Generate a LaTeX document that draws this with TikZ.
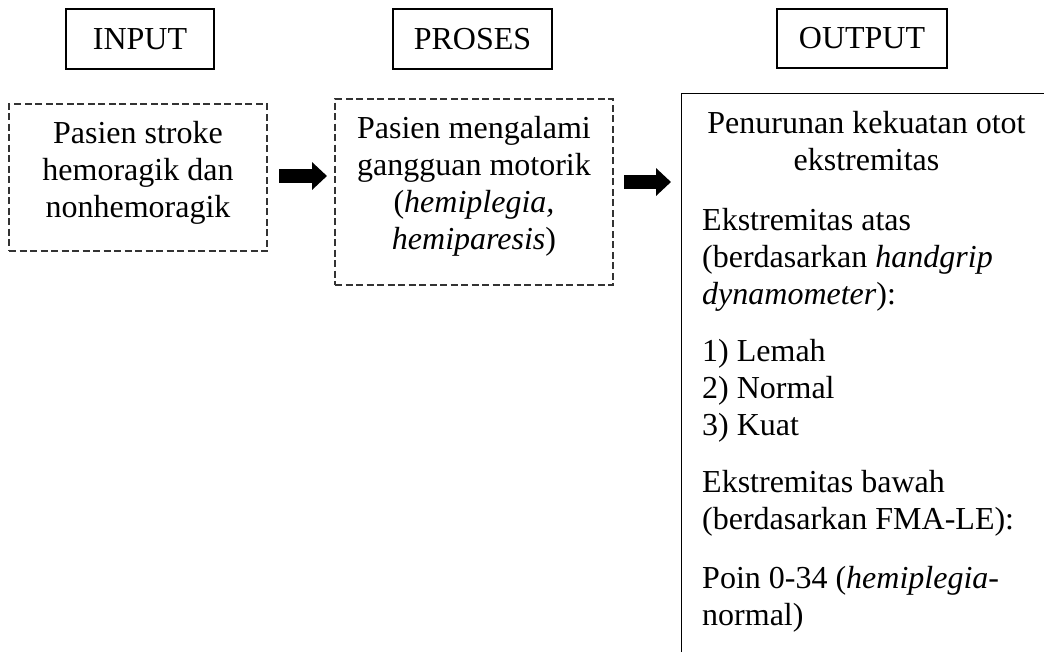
\documentclass[tikz,border=0pt]{standalone}
\usepackage{fontspec}
\setmainfont{Liberation Serif}
\usetikzlibrary{arrows.meta}
\newcommand\fstrut{\rule{0pt}{24pt}}
\begin{document}
\begin{tikzpicture}[x=1pt,y=-1pt,
  every node/.style={font=\fontsize{32pt}{37pt}\selectfont},
  hdr/.style={draw, line width=1.2pt, inner sep=0pt},
  dbox/.style={draw=black!80, dash pattern=on 7pt off 3.5pt, line width=1.1pt, inner sep=0pt},
  txt/.style={inner sep=0pt, anchor=north, align=center},
  ltxt/.style={inner sep=0pt, anchor=north west, align=left},
  blockarrow/.style={line width=14pt, -{Triangle[length=15pt,width=27pt]}}
]
\useasboundingbox (0,0) rectangle (1044,662);

% headers
\node[hdr, minimum width=148pt, minimum height=60pt] (hin) at (140,39) {INPUT};
\node[hdr, minimum width=159pt, minimum height=60pt] (hpr) at (472.5,39) {PROSES};
\node[hdr, minimum width=170pt, minimum height=59pt] (hout) at (862,38.5) {OUTPUT};

% boxes
\node[dbox, minimum width=258pt, minimum height=147pt] (inbox) at (138,177.5) {};
\node[dbox, minimum width=278pt, minimum height=186pt] (prbox) at (474,192) {};
\node[inner sep=0pt, minimum width=418pt, minimum height=558pt] (outbox) at (891,373) {};
\draw[line width=1.3pt] (outbox.south west) -- (outbox.north west) -- (outbox.north east);

% texts
\node[txt] (intext) at (138,119) {\fstrut Pasien stroke\\hemoragik dan\\nonhemoragik};
\node[txt] (prtext) at (474,114) {\fstrut Pasien mengalami\\gangguan motorik\\(\emph{hemiplegia,}\\\emph{hemiparesis})};
\node[txt] (o1) at (866.5,109) {\fstrut Penurunan kekuatan otot\\ekstremitas};
\node[ltxt] (o2) at (702,206) {\fstrut Ekstremitas atas\\(berdasarkan \emph{handgrip}\\\emph{dynamometer}):};
\node[ltxt] (o3) at (702,337) {\fstrut 1) Lemah\\2) Normal\\3) Kuat};
\node[ltxt] (o4) at (702,468) {\fstrut Ekstremitas bawah\\(berdasarkan FMA-LE):};
\node[ltxt] (o5) at (702,564) {\fstrut Poin 0-34 (\emph{hemiplegia}-\\normal)};

% arrows
\coordinate (a1s) at (279,176);
\coordinate (a1e) at (327,176);
\coordinate (a2s) at (624,182);
\coordinate (a2e) at (671,182);
\draw[blockarrow] (a1s) -- (a1e);
\draw[blockarrow] (a2s) -- (a2e);
\end{tikzpicture}
\end{document}
